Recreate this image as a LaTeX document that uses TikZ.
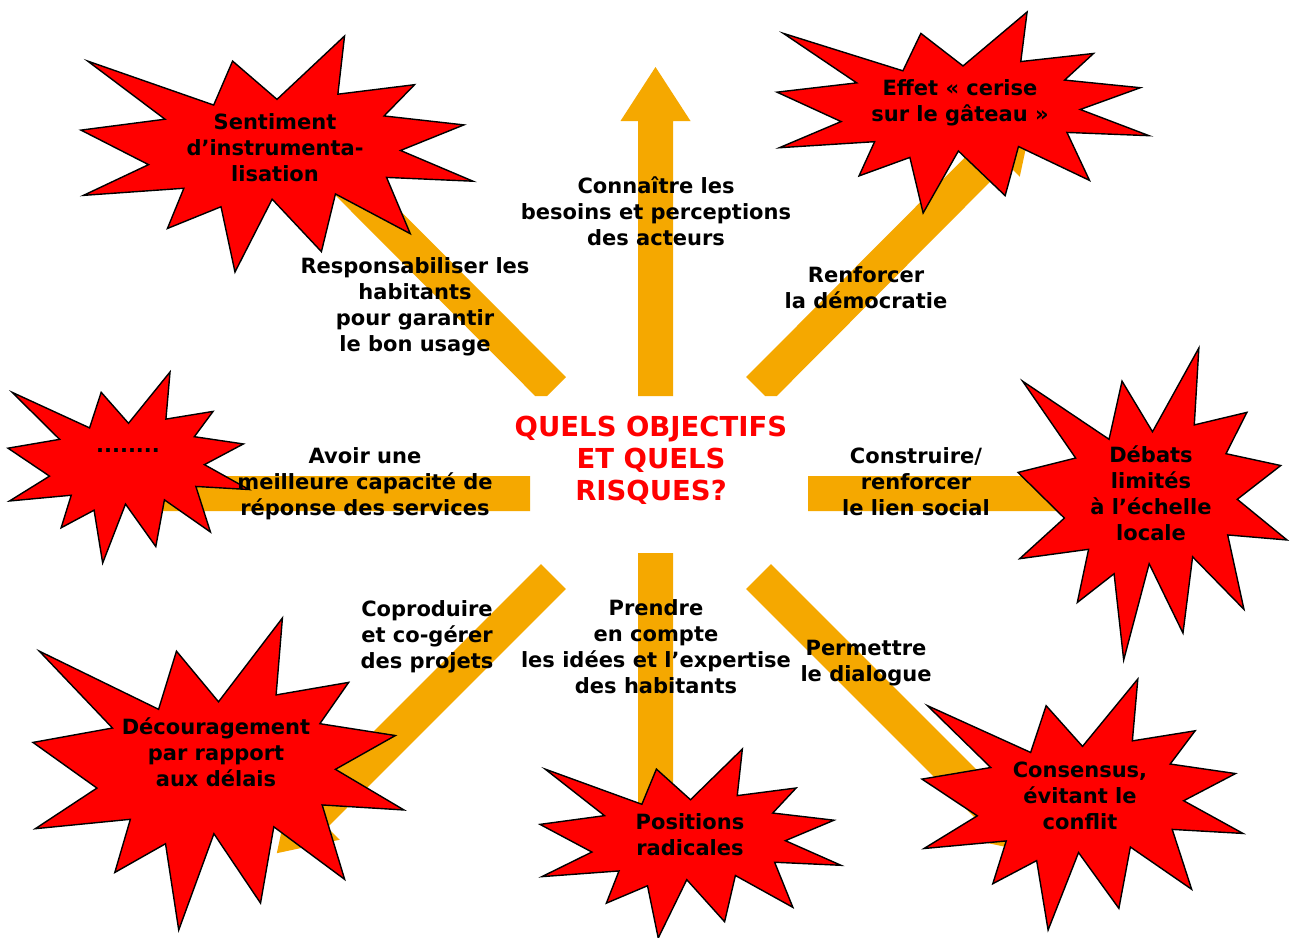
\documentclass[tikz,border=0pt]{standalone}
\usepackage{fontspec}
\setmainfont{DejaVu Sans}
\definecolor{arrowyellow}{RGB}{245,168,0}
\definecolor{starred}{RGB}{255,0,0}
\definecolor{titlered}{RGB}{255,0,0}
\newcommand{\Seal}[4]{%
  \begin{scope}[shift={(#1,#2)}, xscale=#3, yscale=#4]
    \path[starsty] (0.5,0.2685) -- (0.6723,0) -- (0.6553,0.2465) -- (0.8509,0.2063)
      -- (0.7732,0.3387) -- (0.9767,0.3767) -- (0.8151,0.4850) -- (1,0.6153)
      -- (0.7795,0.5992) -- (0.8400,0.8377) -- (0.6491,0.6693) -- (0.6133,0.9138)
      -- (0.4876,0.6914) -- (0.3928,1) -- (0.3572,0.7235) -- (0.2205,0.8156)
      -- (0.2624,0.6452) -- (0.00625,0.6753) -- (0.1723,0.5451) -- (0,0.3988)
      -- (0.2142,0.3526) -- (0.0171,0.1063) -- (0.3385,0.2926) -- (0.3867,0.1063)
      -- cycle;
  \end{scope}}
\begin{document}
\begin{tikzpicture}[x=1pt,y=-1pt,
  arrowfill/.style={fill=arrowyellow},
  starsty/.style={fill=starred, draw=black, line width=1.4pt, line join=miter},
  lab/.style={align=center, font=\fontsize{21}{26}\selectfont\bfseries, text=black, inner sep=0pt, anchor=base},
  titletext/.style={align=center, font=\fontsize{27.5}{32}\selectfont\bfseries, text=titlered, inner sep=0pt, anchor=base}]
\useasboundingbox (0,0) rectangle (1290,937);
\fill[white] (0,0) rectangle (1290,937);

% block arrows
\fill[arrowfill] (638,396) -- (638,121) -- (620.5,121) -- (655.5,67) -- (690.5,121) -- (673,121) -- (673,396) -- cycle;
\fill[arrowfill] (638,553) -- (638,830) -- (620.5,830) -- (655.5,884) -- (690.5,830) -- (673,830) -- (673,553) -- cycle;
\fill[arrowfill] (530,476) -- (150,476) -- (150,458.5) -- (120,493.5) -- (150,528.5) -- (150,511) -- (530,511) -- cycle;
\fill[arrowfill] (808,476) -- (1110,476) -- (1110,458.5) -- (1164,493.5) -- (1110,528.5) -- (1110,511) -- (808,511) -- cycle;
\fill[arrowfill] (746.1,377.1) -- (982.6,139.6) -- (970.25,127.25) -- (1033.2,113.8) -- (1019.75,176.75) -- (1007.4,164.4) -- (776.8,396) -- (765,396) -- cycle;
\fill[arrowfill] (565.9,377.1) -- (329.4,139.6) -- (341.75,127.25) -- (278.8,113.8) -- (292.25,176.75) -- (304.6,164.4) -- (535.2,396) -- (547,396) -- cycle;
\fill[arrowfill] (541.1,564.1) -- (302.6,802.6) -- (290.25,790.25) -- (276.8,853.2) -- (339.75,839.75) -- (327.4,827.4) -- (565.9,588.9) -- cycle;
\fill[arrowfill] (770.9,564.1) -- (1009.4,802.6) -- (1021.75,790.25) -- (1035.2,853.2) -- (972.25,839.75) -- (984.6,827.4) -- (746.1,588.9) -- cycle;

% explosion shapes
\Seal{81}{36}{392}{236}
\Seal{777}{12}{372}{201}
\Seal{8}{372}{241}{191}
\Seal{1018}{348}{269}{312}
\Seal{33}{618}{371}{312}
\Seal{540}{749}{301}{189}
\Seal{922}{679}{321}{251}

% texts (anchor = baseline of last line)
\node[titletext] (c) at (651,500) {QUELS OBJECTIFS\\ET QUELS\\RISQUES?};
\node[lab] (t1) at (275,181) {Sentiment\\d’instrumenta-\\lisation};
\node[lab] (t2) at (960,121) {Effet « cerise\\sur le gâteau »};
\node[lab] (t3) at (128,452) {........};
\node[lab] (t4) at (1151,540) {Débats\\limités\\à l’échelle\\locale};
\node[lab] (t5) at (216,786) {Découragement\\par rapport\\aux délais};
\node[lab] (t6) at (690,855) {Positions\\radicales};
\node[lab] (t7) at (1080,829) {Consensus,\\évitant le\\conflit};
\node[lab] (o1) at (656,245) {Connaître les\\besoins et perceptions\\des acteurs};
\node[lab] (o2) at (415,351) {Responsabiliser les\\habitants\\pour garantir\\le bon usage};
\node[lab] (o3) at (866,308) {Renforcer\\la démocratie};
\node[lab] (o4) at (365,515) {Avoir une\\meilleure capacité de\\réponse des services};
\node[lab] (o5) at (916,515) {Construire/\\renforcer\\le lien social};
\node[lab] (o6) at (427,668) {Coproduire\\et co-gérer\\des projets};
\node[lab] (o7) at (656,693) {Prendre\\en compte\\les idées et l’expertise\\des habitants};
\node[lab] (o8) at (866,681) {Permettre\\le dialogue};
\end{tikzpicture}
\end{document}
